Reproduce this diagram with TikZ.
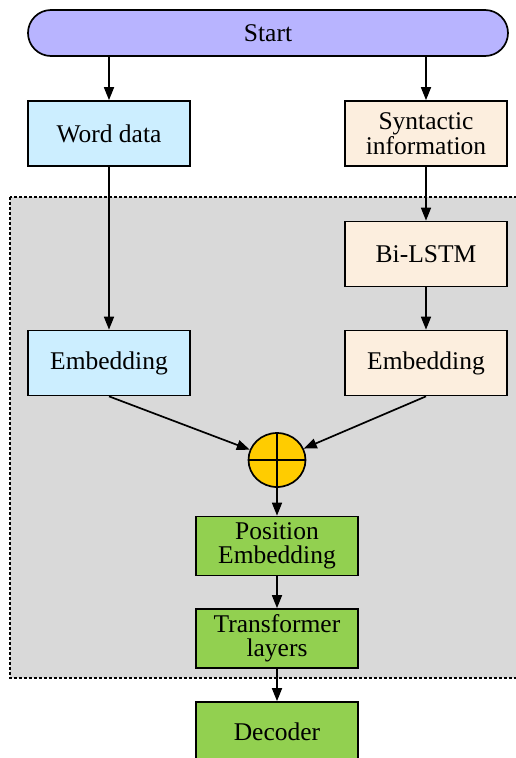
\documentclass[tikz,border=0pt]{standalone}
\usepackage{fontspec}
\setmainfont{Liberation Serif}
\usetikzlibrary{arrows.meta,shapes.geometric}
\definecolor{startfill}{RGB}{184,180,255}
\definecolor{wordfill}{RGB}{204,238,255}
\definecolor{synfill}{RGB}{252,238,222}
\definecolor{panelfill}{RGB}{217,217,217}
\definecolor{sumfill}{RGB}{255,204,0}
\definecolor{greenfill}{RGB}{146,208,80}
\tikzset{
  box/.style={draw=black, line width=1.7pt, minimum width=162pt, minimum height=65pt,
    align=center, inner sep=0pt, font=\fontsize{25.5}{24.5}\selectfont},
  wordbox/.style={box, fill=wordfill},
  synbox/.style={box, fill=synfill},
  greenbox/.style={box, fill=greenfill, minimum height=59pt},
  flow/.style={line width=1.7pt, -{Triangle[length=13pt,width=10pt]}},
}
\begin{document}
\begin{tikzpicture}[x=1pt,y=-1pt]
\useasboundingbox (0,0) rectangle (516,758);

% shaded encoder panel
\draw[fill=panelfill, line width=1.5pt, dash pattern=on 3pt off 2pt] (10,197) rectangle (530,678);

% start terminal
\node[draw=black, fill=startfill, line width=1.7pt, rounded corners=23pt,
  minimum width=480pt, minimum height=46pt, inner sep=0pt,
  font=\fontsize{25.5}{24.5}\selectfont] (start) at (268,33) {Start};

% input boxes
\node[wordbox] (word) at (109,133.5) {Word data};
\node[synbox] (syn) at (426,133.5) {Syntactic\\information};
\node[synbox] (lstm) at (426,254) {Bi-LSTM};
\node[wordbox] (emb1) at (109,363) {Embedding};
\node[synbox] (emb2) at (426,363) {Embedding};

% summation node
\node[draw=black, fill=sumfill, line width=1.7pt, ellipse, minimum width=57pt,
  minimum height=54pt, inner sep=0pt] (sum) at (277,460) {};
\draw[line width=1.7pt] (sum.north) -- (sum.south) (sum.west) -- (sum.east);

% output stack
\node[greenbox] (pos) at (277,546) {Position\\Embedding};
\node[greenbox] (trans) at (277,638.5) {Transformer\\layers};
\node[greenbox] (dec) at (277,731.5) {Decoder};

% connectors
\draw[flow] (start.south -| word) -- (word);
\draw[flow] (start.south -| syn) -- (syn);
\draw[flow] (word) -- (emb1);
\draw[flow] (syn) -- (lstm);
\draw[flow] (lstm) -- (emb2);
\draw[flow] (emb1.south) -- (sum);
\draw[flow] (emb2.south) -- (sum);
\draw[flow] (sum) -- (pos);
\draw[flow] (pos) -- (trans);
\draw[flow] (trans) -- (dec);
\end{tikzpicture}
\end{document}
